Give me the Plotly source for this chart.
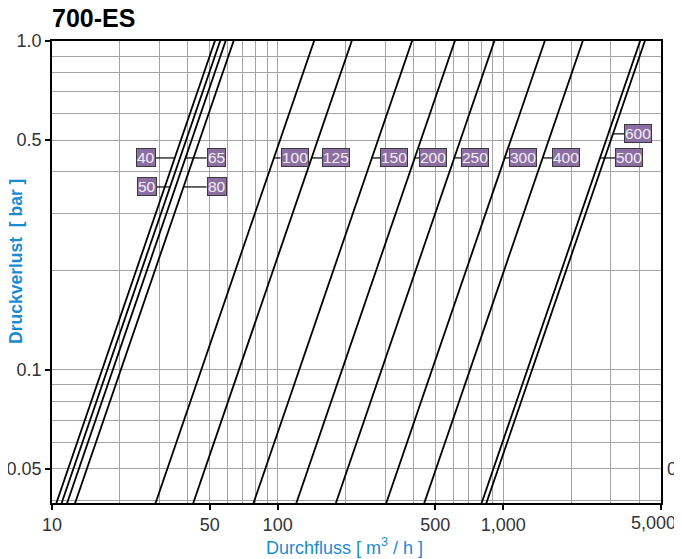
import numpy as np
import plotly.graph_objects as go

# valve sizes (DN) and their flow coefficient (flow in m3/h at 1 bar)
sizes = ['40', '50', '65', '80', '100', '125', '150', '200', '250', '300', '400', '500', '600']
kv = [52.7, 55.6, 58.8, 63.8, 145, 213, 394, 610, 913, 1527, 2250, 4040, 4240]

# where each size tag sits (flow, pressure drop) and on which side of the curve
label_q = [28.8, 29.1, 48.4, 48.4, 103, 158, 285, 424, 651, 1062, 1645, 3128, 3430]
label_dp = [0.441, 0.360, 0.441, 0.360, 0.441, 0.441, 0.441, 0.441, 0.441, 0.441, 0.441, 0.441, 0.522]
label_side = ['right', 'right', 'left', 'left', 'left', 'left', 'left', 'left', 'left', 'left', 'left', 'left', 'left']

x_ticks = [10, 50, 100, 500, 1000, 5000]
x_ticktext = ['10', '50', '100', '500', '1,000', '']
x_last = '5,000'
y_ticks = [0.05, 0.1, 0.5, 1.0]
y_ticktext = ['0.05', '0.1', '0.5', '1.0']

dp_ends = np.array([0.03, 1.2])
FONT = 'Liberation Sans, Arial, sans-serif'
BLUE = '#1b8bd0'
GRID = '#a3a3a3'
TICKFONT = dict(family=FONT, size=18, color='#333')

fig = go.Figure()

for s, k in zip(sizes, kv):
    q = k * np.sqrt(dp_ends)
    fig.add_trace(go.Scatter(x=q, y=dp_ends, mode='lines', name='DN ' + s,
                             line=dict(color='black', width=1.8), showlegend=False,
                             hoverinfo='skip'))

# leader lines from curve to tag
lx, ly = [], []
for k, q, dp in zip(kv, label_q, label_dp):
    lx += [k * np.sqrt(dp), q, None]
    ly += [dp, dp, None]
fig.add_trace(go.Scatter(x=lx, y=ly, mode='lines', line=dict(color='black', width=1.2),
                         showlegend=False, hoverinfo='skip'))

for s, q, dp, side in zip(sizes, label_q, label_dp, label_side):
    fig.add_annotation(x=np.log10(q), y=np.log10(dp), xref='x', yref='y', text=s,
                       showarrow=False, xanchor=side, yanchor='middle',
                       bgcolor='#8d6ea3', bordercolor='#3a3a3a', borderwidth=1, borderpad=0,
                       font=dict(family=FONT, size=15.5, color='#f3eef6'))

# last x tick label is pulled in so it stays inside the page
fig.add_annotation(x=np.log10(x_ticks[-1]), y=0, xref='x', yref='paper', text=x_last,
                   showarrow=False, xanchor='right', yanchor='middle', xshift=17, yshift=-20,
                   font=TICKFONT)

# axis titles
fig.add_annotation(x=0.481, y=-0.094, xref='paper', yref='paper',
                   text='Durchfluss [ m<sup>3</sup> / h ]', showarrow=False,
                   xanchor='center', yanchor='middle',
                   font=dict(family=FONT, size=18, color=BLUE))
fig.add_annotation(x=-0.059, y=0.522, xref='paper', yref='paper',
                   text='<b>Druckverlust  [ bar ]</b>', showarrow=False, textangle=-90,
                   xanchor='center', yanchor='middle',
                   font=dict(family=FONT, size=17.5, color=BLUE))

# neighbouring chart cut off at the right edge
for v, t in zip(y_ticks, y_ticktext):
    fig.add_annotation(x=1.0706, y=np.log10(v), xref='paper', yref='y', text=t,
                       showarrow=False, xanchor='right', yanchor='middle', font=TICKFONT)
fig.add_annotation(x=1.065, y=0.522, xref='paper', yref='paper',
                   text='<b>Druckverlust  [ bar ]</b>', showarrow=False, textangle=-90,
                   xanchor='center', yanchor='middle',
                   font=dict(family=FONT, size=17.5, color=BLUE))

axis_common = dict(type='log', showline=True, linecolor='black', linewidth=1.6, mirror=True,
                   ticks='outside', ticklen=5, tickcolor='black', tickwidth=1.5,
                   showgrid=True, gridcolor=GRID, gridwidth=1, zeroline=False, automargin=False,
                   minor=dict(dtick='D1', showgrid=True, gridcolor=GRID, gridwidth=1, ticks=''),
                   tickfont=TICKFONT)

# the page body adds an 8px margin, so the figure is sized to fit the window
fig.update_layout(
    width=674, height=551,
    margin=dict(l=44, r=21, t=33, b=56, autoexpand=False),
    plot_bgcolor='white', paper_bgcolor='white',
    title=dict(text='<b>700-ES</b>', x=0.0653, xanchor='left', xref='container',
               y=0.982, yanchor='middle', yref='container',
               font=dict(family=FONT, size=25, color='black')),
    xaxis=dict(range=[1, np.log10(5000)], tickvals=x_ticks, ticktext=x_ticktext, **axis_common),
    yaxis=dict(range=[np.log10(0.0394), 0], tickvals=y_ticks, ticktext=y_ticktext, **axis_common),
)

fig.write_html("out.html")
